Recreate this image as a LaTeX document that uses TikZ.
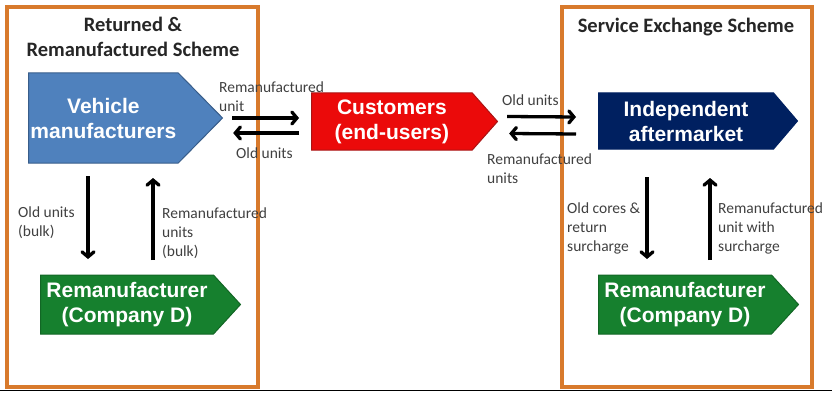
\documentclass[tikz,border=0pt]{standalone}
\usepackage{fontspec}
\setmainfont{Liberation Sans}
\newfontfamily\calibri{Carlito}
\usetikzlibrary{shapes.symbols,arrows.meta}
\definecolor{vmblue}{RGB}{79,129,189}
\definecolor{vmedge}{RGB}{56,93,138}
\definecolor{custred}{RGB}{235,10,10}
\definecolor{custedge}{RGB}{170,20,20}
\definecolor{iamnavy}{RGB}{0,32,96}
\definecolor{remgreen}{RGB}{22,128,46}
\definecolor{schemeorange}{RGB}{216,122,44}
\definecolor{labelgray}{RGB}{64,64,64}

\begin{document}
\begin{tikzpicture}[x=1pt,y=-1pt,
    party/.style={signal, signal to=east, signal from=nowhere, anchor=west,
        text=white, font=\fontsize{21}{25}\selectfont\bfseries, align=center,
        inner sep=0pt, line width=1pt},
    flowlabel/.style={anchor=west, inner sep=0pt, align=left, text=labelgray,
        font=\calibri\fontsize{15.5}{19}\selectfont},
    schemetitle/.style={inner sep=0pt, align=center, text=black!85,
        font=\calibri\bfseries\fontsize{20.5}{25}\selectfont},
    flow/.style={-{Straight Barb[length=5pt,width=12pt,line cap=round]}, line width=3.3pt, black}]
\useasboundingbox (0,0) rectangle (832,393);

% scheme frames
\draw [schemeorange, line width=3.5pt] (7,7) rectangle (258,387);
\draw [schemeorange, line width=3.5pt] (562,7) rectangle (812,387);
\draw [black, line width=1.2pt] (0,390.5) -- (832,390.5);

\node (tL) at (133,37)[schemetitle]{Returned \&\\Remanufactured Scheme};
\node (tR) at (686,27)[schemetitle]{Service Exchange Scheme};

% parties
\node (vm) at (28,118)[party, fill=vmblue, draw=vmedge, minimum width=194pt, minimum height=90pt,
    signal pointer angle=91]{Vehicle\\manufacturers};
\node (cust) at (311,121.5)[party, fill=custred, draw=custedge, minimum width=186pt, minimum height=57pt,
    signal pointer angle=97]{Customers\\(end-users)};
\node (ia) at (598,121)[party, fill=iamnavy, draw=iamnavy, minimum width=199pt, minimum height=56pt,
    signal pointer angle=99]{Independent\\aftermarket};
\node (remL) at (40,304.5)[party, fill=remgreen, draw=remgreen!80!black, minimum width=200pt, minimum height=59pt,
    signal pointer angle=95]{Remanufacturer\\(Company D)};
\node (remR) at (598,304.5)[party, fill=remgreen, draw=remgreen!80!black, minimum width=200pt, minimum height=59pt,
    signal pointer angle=95]{Remanufacturer\\(Company D)};

% flows
\draw [flow] ([shift={(9,0)}]vm.east) -- ([shift={(-12,-3.5)}]cust.west);
\draw [flow] ([shift={(-12,11.5)}]cust.west) -- ([shift={(10,15)}]vm.east);
\draw [flow] ([shift={(9,-5)}]cust.east) -- ([shift={(-22,-4)}]ia.west);
\draw [flow] ([shift={(-22,13)}]ia.west) -- ([shift={(11,12)}]cust.east);
\draw [flow] ([shift={(60,58)}]vm.west) -- ([shift={(48,-45.5)}]remL.west);
\draw [flow] ([shift={(113,-44.5)}]remL.west) -- ([shift={(125,60)}]vm.west);
\draw [flow] ([shift={(49,56)}]ia.west) -- ([shift={(49,-45.5)}]remR.west);
\draw [flow] ([shift={(112,-44.5)}]remR.west) -- ([shift={(112,57)}]ia.west);

% flow labels
\node (l1) at (219,96.5)[flowlabel]{Remanufactured\\unit};
\node (l2) at (236,153)[flowlabel]{Old units};
\node (l3) at (502,100)[flowlabel]{Old units};
\node (l4) at (487,169)[flowlabel]{Remanufactured\\units};
\node (l5) at (18,223)[flowlabel]{Old units\\(bulk)};
\node (l6) at (162,233)[flowlabel]{Remanufactured\\units\\(bulk)};
\node (l7) at (567,228)[flowlabel]{Old cores \&\\return\\surcharge};
\node (l8) at (718,228)[flowlabel]{Remanufactured\\unit with\\surcharge};

\end{tikzpicture}
\end{document}
